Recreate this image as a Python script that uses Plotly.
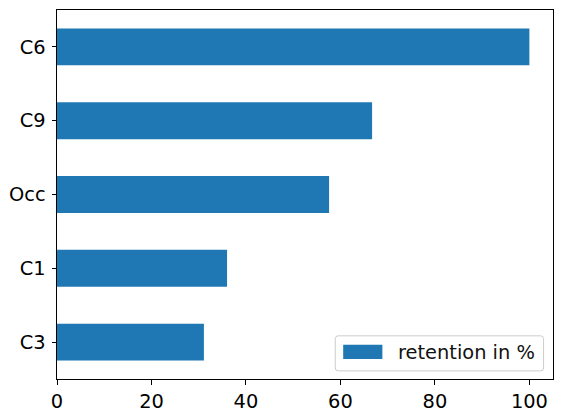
import plotly.graph_objects as go

categories = ['C3', 'C1', 'Occ', 'C9', 'C6']
retention = [31.1, 36.0, 57.6, 66.7, 100.0]
series_name = 'retention in %'
x_ticks = [0, 20, 40, 60, 80, 100]

bar_color = '#1f77b4'
font = dict(family='DejaVu Sans', size=19.4, color='black')

fig = go.Figure()
fig.add_trace(go.Bar(
    x=retention,
    y=categories,
    orientation='h',
    name=series_name,
    width=0.5,
    marker=dict(color=bar_color, line=dict(width=0)),
    showlegend=False,
))

axis_common = dict(
    showline=True,
    linecolor='black',
    linewidth=1,
    mirror=True,
    showgrid=False,
    zeroline=False,
    ticks='outside',
    ticklen=4.5,
    tickwidth=1,
    tickcolor='black',
    tickfont=font,
    automargin=False,
)


def rounded_rect(x0, y0, x1, y1, rx, ry):
    # rounded box path in axis-domain coordinates
    return (f'M {x0 + rx},{y0} L {x1 - rx},{y0} Q {x1},{y0} {x1},{y0 + ry} '
            f'L {x1},{y1 - ry} Q {x1},{y1} {x1 - rx},{y1} '
            f'L {x0 + rx},{y1} Q {x0},{y1} {x0},{y1 - ry} '
            f'L {x0},{y0 + ry} Q {x0},{y0} {x0 + rx},{y0} Z')


# legend drawn by hand so the patch keeps the wide matplotlib shape
legend_shapes = [
    dict(type='path', xref='x domain', yref='y domain',
         path=rounded_rect(0.561, 0.022, 0.981, 0.117, 0.006, 0.008),
         line=dict(color='#cccccc', width=1), fillcolor='rgba(255,255,255,0.8)'),
    dict(type='rect', xref='x domain', yref='y domain',
         x0=0.577, x1=0.656, y0=0.054, y1=0.0925,
         line=dict(width=0), fillcolor=bar_color),
]

fig.update_layout(
    width=562,
    height=418,
    margin=dict(l=57, r=9.4, t=10, b=39),
    plot_bgcolor='white',
    paper_bgcolor='white',
    font=font,
    showlegend=False,
    hovermode=False,
    shapes=legend_shapes,
    annotations=[dict(
        text=series_name, xref='x domain', yref='y domain',
        x=0.683, y=0.071, xanchor='left', yanchor='middle',
        showarrow=False, font=dict(family='DejaVu Sans', size=19.4, color='#111111'),
    )],
    xaxis=dict(range=[0, 105], tickvals=x_ticks, **axis_common),
    yaxis=dict(range=[-0.5, 4.5], categoryorder='array',
               categoryarray=categories, ticklabelstandoff=2, **axis_common),
)

fig.write_html('out.html', config={'displayModeBar': False},
               post_script="document.body.style.margin='0';")
